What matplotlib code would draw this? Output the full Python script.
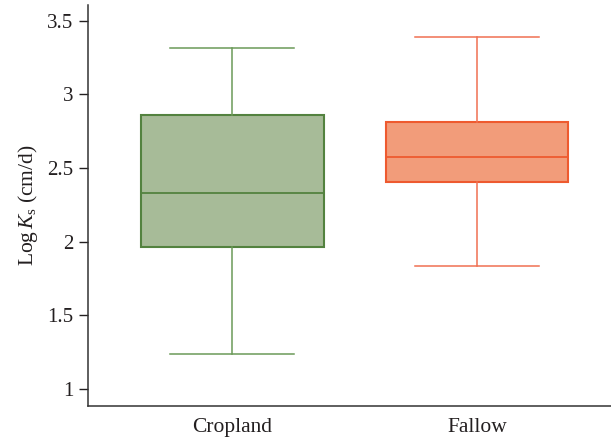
import matplotlib
matplotlib.use("Agg")
import matplotlib.pyplot as plt

plt.rcParams['font.family'] = ['Liberation Serif', 'DejaVu Serif']
plt.rcParams['mathtext.fontset'] = 'custom'
plt.rcParams['mathtext.rm'] = 'Liberation Serif'
plt.rcParams['mathtext.it'] = 'Liberation Serif:italic'

# valores
grupos = ["Cropland", "Fallow"]
whisker_baixo = [1.237, 1.838]
q1 = [1.963, 2.406]
mediana = [2.331, 2.577]
q3 = [2.858, 2.811]
whisker_alto = [3.317, 3.389]

cor_preench = ["#a7bb98", "#f29c7a"]
cor_borda = ["#53823f", "#ee5a2f"]
cor_linha = ["#6b9a58", "#f07052"]

fig = plt.figure(figsize=(6.11, 4.38), dpi=100)
ax = fig.add_axes([0.144, 0.074, 0.856, 0.915])

for i in range(len(grupos)):
    stats = [{
        "label": grupos[i],
        "whislo": whisker_baixo[i],
        "q1": q1[i],
        "med": mediana[i],
        "q3": q3[i],
        "whishi": whisker_alto[i],
        "fliers": [],
    }]
    ax.bxp(stats, positions=[i + 1], widths=0.747, patch_artist=True,
           showfliers=False, manage_ticks=False,
           boxprops=dict(facecolor=cor_preench[i], edgecolor=cor_borda[i], linewidth=1.5),
           medianprops=dict(color=cor_borda[i], linewidth=1.3),
           whiskerprops=dict(color=cor_linha[i], linewidth=1.1),
           capprops=dict(color=cor_linha[i], linewidth=1.1),
           capwidths=0.506)

ax.set_xlim(0.412, 2.547)
ax.set_ylim(0.889, 3.607)
ax.set_xticks([1, 2])
ax.set_xticklabels(grupos)
ax.set_yticks([1, 1.5, 2, 2.5, 3, 3.5])
ax.set_yticklabels(["1", "1.5", "2", "2.5", "3", "3.5"])
ax.tick_params(axis='x', length=0, labelsize=15.5, pad=9, colors="#231f20")
ax.tick_params(axis='y', length=6.5, width=1, labelsize=15, pad=4, colors="#231f20")
ax.spines['top'].set_visible(False)
ax.spines['right'].set_visible(False)
for s in ['left', 'bottom']:
    ax.spines[s].set_color("#333333")
    ax.spines[s].set_linewidth(1.1)
ax.set_ylabel(r"Log$\,K_\mathrm{s}$ (cm/d)", fontsize=15.5, color="#231f20", labelpad=5)

fig.savefig("out.png", dpi=100)
